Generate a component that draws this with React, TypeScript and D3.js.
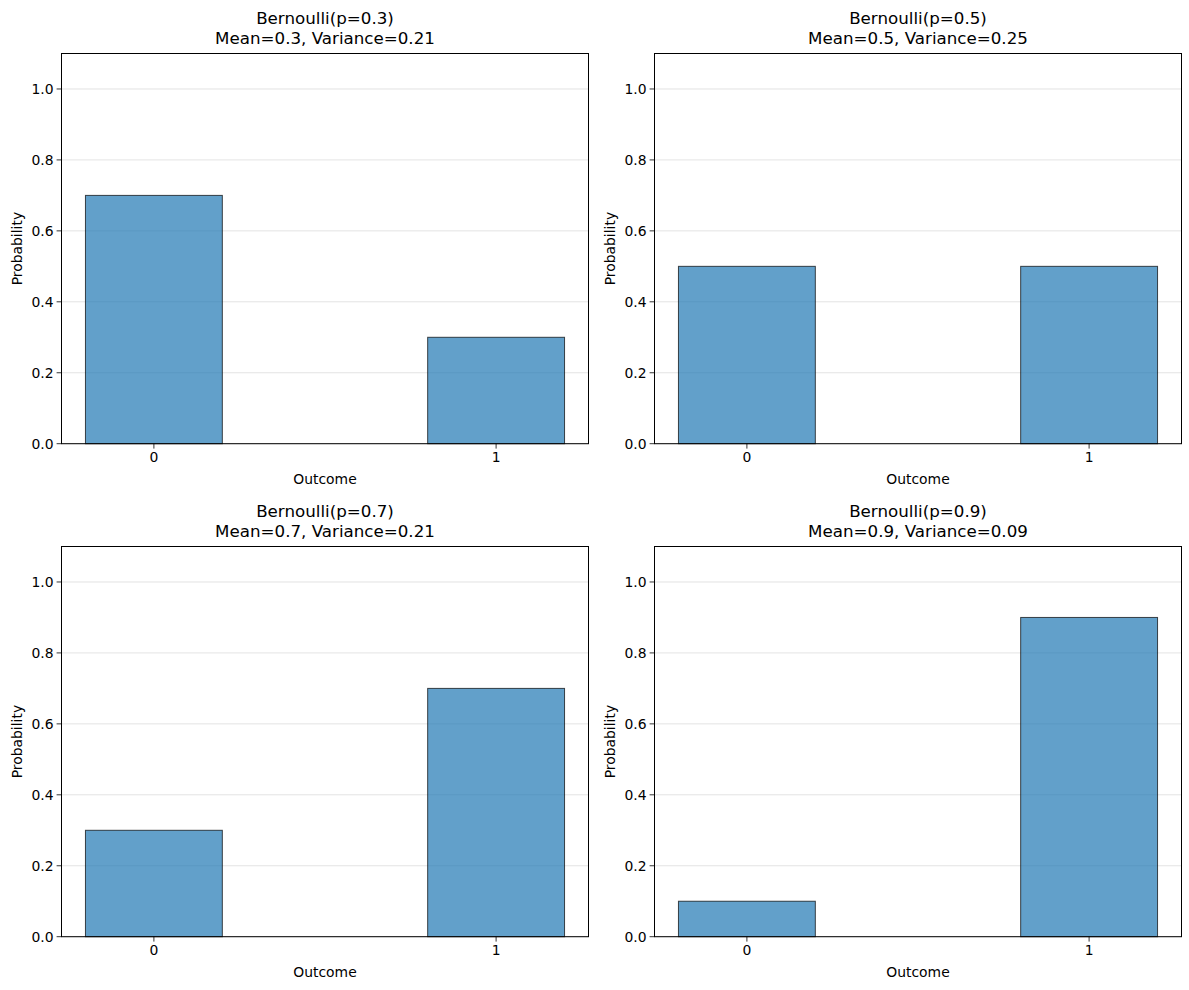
import * as d3 from 'd3';

const outcomes = [0, 1];
const pValues = [0.3, 0.5, 0.7, 0.9];
const yTicks = [0, 0.2, 0.4, 0.6, 0.8, 1.0];

const W = 1189;
const H = 990;
const colLeft = [61.5, 654.5];
const rowTop = [53.5, 546.5];
const axW = 527;
const axH = 390.2;
const font = 'DejaVu Sans, sans-serif';

const fmt = (v: number) => +v.toFixed(2) + '';

const Panel = ({ p, x0, y0 }: { p: number; x0: number; y0: number }) => {
    const probs = [1 - p, p];
    const mean = p;
    const variance = p * (1 - p);
    const x = d3.scaleLinear().domain([-0.27, 1.27]).range([0, axW]);
    const y = d3.scaleLinear().domain([0, 1.1]).range([axH, 0]);
    const bw = x(0.4) - x(0);

    return (
        <g transform={`translate(${x0}, ${y0})`}>
            {yTicks.map((t, i) => (
                <line key={i} x1={0} x2={axW} y1={y(t)} y2={y(t)} stroke="#b0b0b0" strokeOpacity={0.35} strokeWidth={1} />
            ))}
            {outcomes.map((o, i) => (
                <rect key={i} x={x(o) - bw / 2} y={y(probs[i])} width={bw} height={y(0) - y(probs[i])}
                    fill="#1f77b4" fillOpacity={0.7} stroke="#000" strokeOpacity={0.7} strokeWidth={1} />
            ))}
            <rect x={0} y={0} width={axW} height={axH} fill="none" stroke="#000" strokeWidth={1} />
            {yTicks.map((t, i) => (
                <g key={i} transform={`translate(0, ${y(t)})`}>
                    <line x1={-4.9} x2={0} stroke="#000" strokeWidth={0.8} />
                    <text x={-8} dy="0.35em" textAnchor="end" fontSize={13.9} fontFamily={font}>{t.toFixed(1)}</text>
                </g>
            ))}
            {outcomes.map((o, i) => (
                <g key={i} transform={`translate(${x(o)}, ${axH})`}>
                    <line y1={0} y2={4.9} stroke="#000" strokeWidth={0.8} />
                    <text y={8} dy="0.76em" textAnchor="middle" fontSize={13.9} fontFamily={font}>{o}</text>
                </g>
            ))}
            <text x={axW / 2} y={axH + 40} textAnchor="middle" fontSize={13.9} fontFamily={font}>Outcome</text>
            <text transform={`translate(${-40}, ${axH / 2}) rotate(-90)`} textAnchor="middle" fontSize={13.9} fontFamily={font}>Probability</text>
            <text x={axW / 2} y={-30} textAnchor="middle" fontSize={16.7} fontFamily={font}>{`Bernoulli(p=${p})`}</text>
            <text x={axW / 2} y={-10} textAnchor="middle" fontSize={16.7} fontFamily={font}>{`Mean=${mean}, Variance=${fmt(variance)}`}</text>
        </g>
    );
};

const App = () => {
    return (
        <svg width={W} height={H} style={{ display: 'block', position: 'absolute', left: 0, top: 0 }}>
            <rect width={W} height={H} fill="#fff" />
            {pValues.map((p, i) => (
                <Panel key={i} p={p} x0={colLeft[i % 2]} y0={rowTop[Math.floor(i / 2)]} />
            ))}
        </svg>
    );
};

export default App;
